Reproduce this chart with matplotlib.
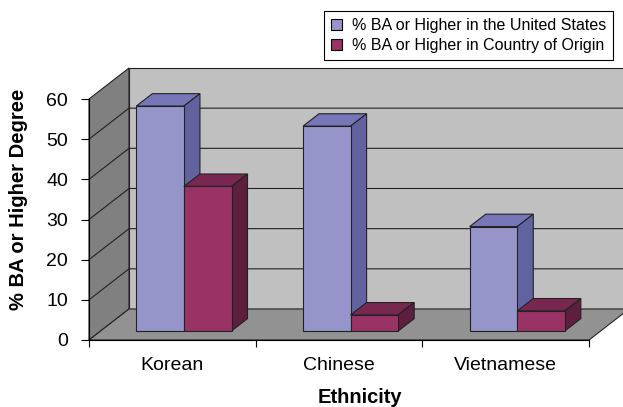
import matplotlib
matplotlib.use("Agg")
import matplotlib.pyplot as plt
from matplotlib.patches import Polygon, Patch

plt.rcParams["font.family"] = "Liberation Sans"

categories = ["Korean", "Chinese", "Vietnamese"]
us_values = [56, 51, 26]
origin_values = [36, 4, 5]
series_names = ["% BA or Higher in the United States",
                "% BA or Higher in Country of Origin"]
yticks = [0, 10, 20, 30, 40, 50, 60]

# face colours: front, top, side
us_colors = ("#9595C9", "#7676B9", "#6262A0")
origin_colors = ("#993366", "#782850", "#5E1E3E")

fig = plt.figure(figsize=(6.23, 4.07), dpi=100)
ax = fig.add_axes([89 / 623, 67 / 407, 500 / 623, 241 / 407])
ax.set_xlim(0, 3)
ax.set_ylim(0, 60)
ax.patch.set_visible(False)

# depth offset of the 3d box in data units
DX = 0.24
DY = 7.72
edge = "#222222"

# walls and floor
back = Polygon([(DX, DY), (3 + DX, DY), (3 + DX, 60 + DY), (DX, 60 + DY)],
               closed=True, facecolor="#C0C0C0", edgecolor=edge, lw=0.8,
               clip_on=False, zorder=0)
left = Polygon([(0, 0), (DX, DY), (DX, 60 + DY), (0, 60)], closed=True,
               facecolor="#808080", edgecolor=edge, lw=0.8, clip_on=False, zorder=0)
floor = Polygon([(0, 0), (3, 0), (3 + DX, DY), (DX, DY)], closed=True,
                facecolor="#929292", edgecolor=edge, lw=0.8, clip_on=False, zorder=0)
for p in (back, left, floor):
    ax.add_patch(p)

for v in yticks[1:-1]:
    ax.plot([0, DX, 3 + DX], [v, v + DY, v + DY], color=edge, lw=0.8,
            clip_on=False, zorder=1)

# bars
w = 0.2855
F0, F1 = 0.29, 0.69
for s, (vals, cols) in enumerate([(us_values, us_colors), (origin_values, origin_colors)]):
    z = 3 + s
    xs = [i + 0.5 - w + s * w for i in range(len(categories))]
    ax.bar([x + F0 * DX for x in xs], vals, width=w, bottom=F0 * DY, align="edge",
           color=cols[0], edgecolor=edge, lw=0.8, zorder=z + 0.5)
    for x, v in zip(xs, vals):
        top = [(x + F0 * DX, v + F0 * DY), (x + w + F0 * DX, v + F0 * DY),
               (x + w + F1 * DX, v + F1 * DY), (x + F1 * DX, v + F1 * DY)]
        side = [(x + w + F0 * DX, F0 * DY), (x + w + F1 * DX, F1 * DY),
                (x + w + F1 * DX, v + F1 * DY), (x + w + F0 * DX, v + F0 * DY)]
        ax.add_patch(Polygon(top, closed=True, facecolor=cols[1], edgecolor=edge,
                             lw=0.8, clip_on=False, zorder=z))
        ax.add_patch(Polygon(side, closed=True, facecolor=cols[2], edgecolor=edge,
                             lw=0.8, clip_on=False, zorder=z))

# axes
for sp in ("top", "right"):
    ax.spines[sp].set_visible(False)
for sp in ("left", "bottom"):
    ax.spines[sp].set_linewidth(0.8)
    ax.spines[sp].set_zorder(2)

ax.set_yticks(yticks)
ax.tick_params(axis="y", direction="out", length=6, width=0.8, pad=9, labelsize=14)
ax.set_xticks([0, 1, 2, 3])
ax.set_xticklabels([])
ax.set_xticks([i + 0.5 for i in range(len(categories))], minor=True)
ax.set_xticklabels(categories, minor=True)
ax.tick_params(axis="x", which="major", direction="out", length=5, width=0.8)
ax.tick_params(axis="x", which="minor", length=0, pad=12, labelsize=14)

ax.set_ylabel("% BA or Higher Degree", fontsize=14.5, fontweight="bold", va="center")
ax.yaxis.set_label_coords(-0.14, 0.585)
ax.set_xlabel("Ethnicity", fontsize=14.5, fontweight="bold", va="center")
ax.xaxis.set_label_coords(0.542, -0.237)

handles = [Patch(facecolor=us_colors[0], edgecolor="black", lw=0.8),
           Patch(facecolor=origin_colors[0], edgecolor="black", lw=0.8)]
leg = fig.legend(handles, series_names, loc="upper right",
                 bbox_to_anchor=(613 / 623, 1 - 11 / 407), frameon=True,
                 fancybox=False, edgecolor="black", framealpha=1, fontsize=11.5,
                 handlelength=0.7, handleheight=0.7, borderpad=0.45,
                 labelspacing=0.3, handletextpad=0.6, borderaxespad=0)
leg.get_frame().set_linewidth(0.8)

plt.savefig("out.png", dpi=100)
